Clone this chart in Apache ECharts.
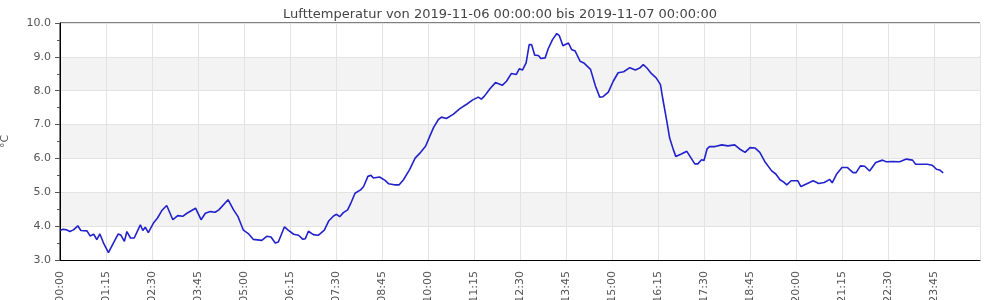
<!DOCTYPE html>
<html>
<head>
<meta charset="utf-8">
<script src="https://cdn.jsdelivr.net/npm/echarts@6/dist/echarts.min.js"></script>
<style>html,body{margin:0;padding:0;background:#fff}#c{width:1000px;height:300px}</style>
</head>
<body>
<div id="c"></div>
<script>
const titleText = 'Lufttemperatur von 2019-11-06 00:00:00 bis 2019-11-07 00:00:00';
const unitLabel = '°C';
const times = ['00:00','00:05','00:11','00:16','00:22','00:29','00:34','00:44','00:49','00:55','01:00','01:05','01:11','01:19','01:27','01:35','01:39','01:45','01:49','01:55','02:01','02:11','02:15','02:19','02:24','02:33','02:39','02:46','02:54','03:04','03:12','03:20','03:27','03:41','03:50','03:57','04:05','04:13','04:19','04:34','04:43','04:50',
'04:59','05:07','05:15','05:29','05:37','05:44','05:51','05:56','06:06','06:12','06:21','06:29','06:36','06:40','06:45','06:53','07:01','07:11','07:18','07:26','07:31','07:36','07:42','07:49','07:54','08:01','08:10','08:15','08:22','08:27','08:31','08:41','08:50','08:56','09:05','09:13','09:20','09:30','09:39','09:48','09:56','10:03','10:09','10:17','10:22','10:30','10:41',
'10:52','11:03','11:13','11:22','11:27','11:32','11:41','11:50','12:01','12:08','12:16','12:24','12:29','12:34','12:40','12:45','12:49','12:54','13:00','13:04','13:11','13:16','13:23','13:30','13:34','13:40','13:49','13:54','14:00','14:08','14:14','14:25','14:33','14:40','14:45','14:54','15:02','15:10','15:19','15:29','15:38','15:46',
'15:51','15:57','16:04','16:12','16:19','16:23','16:29','16:34','16:40','16:44','16:53','17:02','17:09','17:15','17:20','17:26','17:30','17:35','17:39','17:48','17:59','18:09','18:20','18:28','18:37','18:45','18:53','19:01','19:09','19:20','19:27','19:34','19:40','19:45','19:52',
'19:55','20:03','20:08','20:16','20:28','20:37','20:46','20:55','20:59','21:06','21:15','21:24','21:33','21:38','21:45','21:52','22:00','22:10','22:13','22:21','22:27','22:38','22:49','23:00','23:10','23:15','23:24','23:34','23:42','23:49','23:54','24:00'];
const temps = [3.87,3.91,3.89,3.84,3.89,4.01,3.87,3.86,3.71,3.76,3.60,3.77,3.50,3.22,3.50,3.77,3.74,3.55,3.84,3.65,3.65,4.04,3.87,3.97,3.81,4.11,4.24,4.46,4.61,4.19,4.31,4.29,4.38,4.53,4.19,4.38,4.43,4.41,4.48,4.78,4.48,4.29,
3.88,3.78,3.61,3.58,3.70,3.68,3.50,3.53,3.98,3.88,3.76,3.73,3.61,3.63,3.85,3.75,3.73,3.88,4.15,4.30,4.35,4.28,4.40,4.48,4.67,4.97,5.07,5.17,5.47,5.50,5.42,5.45,5.35,5.25,5.22,5.22,5.37,5.67,6.01,6.18,6.36,6.66,6.91,7.15,7.22,7.18,7.30,
7.47,7.60,7.73,7.81,7.75,7.84,8.06,8.24,8.16,8.28,8.51,8.48,8.65,8.61,8.82,9.36,9.36,9.05,9.04,8.95,8.97,9.24,9.51,9.69,9.63,9.33,9.41,9.22,9.17,8.87,8.82,8.63,8.14,7.81,7.82,7.96,8.28,8.53,8.56,8.68,8.61,8.68,
8.77,8.67,8.51,8.38,8.18,7.74,7.14,6.60,6.26,6.06,6.13,6.21,6.01,5.84,5.84,5.96,5.94,6.28,6.35,6.35,6.40,6.37,6.40,6.28,6.18,6.32,6.31,6.18,5.91,5.64,5.54,5.37,5.30,5.22,5.34,
5.36,5.34,5.17,5.24,5.34,5.26,5.29,5.38,5.28,5.53,5.73,5.73,5.58,5.58,5.78,5.77,5.63,5.88,5.90,5.95,5.90,5.91,5.90,5.98,5.95,5.83,5.83,5.83,5.80,5.68,5.66,5.57];
const xTickLabels = ['00:00','01:15','02:30','03:45','05:00','06:15','07:30','08:45','10:00','11:15','12:30','13:45','15:00','16:15','17:30','18:45','20:00','21:15','22:30','23:45'];

const toMin = s => { const p = s.split(':'); return (+p[0]) * 60 + (+p[1]); };
const data = times.map((t, i) => [toMin(t), temps[i]]);
const font = 'DejaVu Sans';
const chart = echarts.init(document.getElementById('c'), null, {renderer: 'canvas'});
chart.setOption({
  animation: false,
  backgroundColor: '#fff',
  title: {text: titleText, left: 'center', top: 3, textStyle: {fontFamily: font, fontSize: 13, fontWeight: 'normal', color: '#444'}},
  grid: {left: 60, top: 23, width: 920, height: 237, containLabel: false, outerBoundsMode: 'none', show: true, borderColor: '#000', borderWidth: 1, backgroundColor: 'transparent'},
  xAxis: {
    type: 'value', min: 0, max: 1500, interval: 75,
    axisLine: {show: true, lineStyle: {color: '#000', width: 1}},
    axisTick: {show: false},
    splitLine: {show: true, lineStyle: {color: '#e3e3e3', width: 1}},
    axisLabel: {
      rotate: 90, margin: 11, fontFamily: font, fontSize: 11, color: '#555',
      formatter: v => { const i = Math.round(v / 75); return i < xTickLabels.length ? xTickLabels[i] : ''; }
    }
  },
  yAxis: {
    type: 'value', min: 3, max: 10, interval: 1,
    name: unitLabel, nameLocation: 'middle', nameGap: 49, nameRotate: 90,
    nameTextStyle: {fontFamily: font, fontSize: 11, color: '#555'},
    axisLine: {show: true, lineStyle: {color: '#000', width: 1}},
    axisTick: {show: true, length: 5, lineStyle: {color: '#555'}},
    minorTick: {show: true, splitNumber: 2, length: 3, lineStyle: {color: '#555'}},
    splitLine: {show: true, lineStyle: {color: '#e3e3e3', width: 1}},
    splitArea: {show: true, areaStyle: {color: ['#ffffff', '#f3f3f3']}},
    axisLabel: {margin: 9, fontFamily: font, fontSize: 11, color: '#555', formatter: v => v.toFixed(1)}
  },
  series: [{
    type: 'line', data: data, showSymbol: false, symbol: 'none',
    lineStyle: {color: '#2222cc', width: 1.6}
  }]
});
</script>
</body>
</html>
